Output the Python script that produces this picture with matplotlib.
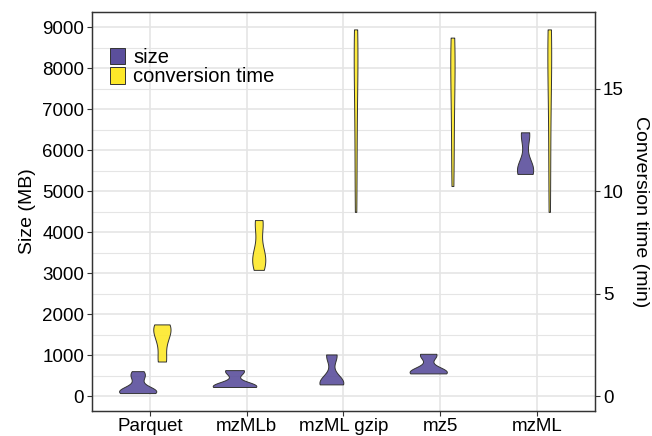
import numpy as np
import matplotlib
matplotlib.use('Agg')
import matplotlib.pyplot as plt
from matplotlib.patches import Patch
from matplotlib.ticker import MultipleLocator

plt.rcParams['font.family'] = ['Liberation Sans', 'DejaVu Sans']

# 数据：每种格式的若干样本
formats = ['Parquet', 'mzMLb', 'mzML gzip', 'mz5', 'mzML']
size_mb = [
    [80, 90, 100, 110, 125, 150, 200, 450, 530, 615],
    [228, 232, 240, 245, 250, 265, 290, 600, 620, 640],
    [292, 298, 305, 315, 330, 360, 420, 980, 1005, 1022],
    [560, 565, 572, 580, 595, 620, 665, 990, 1015, 1038],
    [5425, 5450, 5490, 5530, 5580, 5650, 6330, 6400, 6440],
]
time_min = [
    [1.70, 1.75, 2.5, 2.9, 3.2, 3.35, 3.45, 3.51],
    [6.17, 6.35, 6.55, 6.75, 6.9, 7.2, 8.3, 8.5, 8.6],
    [9.0, 11.0, 13.0, 14.8, 16.0, 17.0, 17.5, 17.9],
    [10.26, 12.0, 13.8, 15.2, 16.3, 17.0, 17.5],
    [9.0, 11.2, 13.2, 15.0, 16.2, 17.1, 17.6, 17.9],
]
time_scale = 500  # 时间乘以500画在左轴上

purple = '#5b4f9c'
yellow = '#fde829'


def bw_nrd0(x):
    x = np.asarray(x, float)
    hi = np.std(x, ddof=1)
    q75, q25 = np.percentile(x, [75, 25])
    lo = min(hi, (q75 - q25) / 1.34)
    return 0.9 * lo * len(x) ** -0.2


def kde(x):
    x = np.asarray(x, float)
    bw = bw_nrd0(x)
    y = np.linspace(x.min(), x.max(), 512)
    d = np.exp(-0.5 * ((y[:, None] - x[None, :]) / bw) ** 2).sum(1)
    d /= len(x) * bw * np.sqrt(2 * np.pi)
    return y, d


# 计算所有小提琴的密度（scale = "area"）
violins = []
for i in range(len(formats)):
    violins.append((i + 1 - 0.125, kde(size_mb[i]), purple))
    violins.append((i + 1 + 0.125, kde(np.array(time_min[i]) * time_scale), yellow))
gmax = max(v[1][1].max() for v in violins)

fig = plt.figure(figsize=(6.52, 4.36), dpi=100)
ax = fig.add_axes([0.1406, 0.058, 0.913 - 0.1406, 0.973 - 0.058])

for xc, (y, d), col in violins:
    half = 0.225 * d / gmax
    ax.fill_betweenx(y, xc - half, xc + half, facecolor=matplotlib.colors.to_rgba(col, 0.9),
                     edgecolor='#333333', linewidth=0.7, zorder=3)

ax.set_xlim(0.4, 5.6)
ax.set_ylim(-350, 9380)
ax.set_xticks(range(1, 6))
ax.set_xticklabels(formats)
ax.set_yticks(np.arange(0, 9001, 1000))
ax.yaxis.set_minor_locator(MultipleLocator(500))

# 网格
ax.grid(True, which='major', color='#e5e5e5', linewidth=1.2, zorder=0)
ax.grid(True, which='minor', axis='y', color='#e5e5e5', linewidth=0.8, zorder=0)
ax.set_axisbelow(True)

ax.tick_params(axis='both', which='major', labelsize=13.5, length=3.5, width=0.8,
               color='#333333', labelcolor='black', pad=2)
ax.tick_params(axis='y', which='minor', length=0)
for s in ax.spines.values():
    s.set_color('#333333')
    s.set_linewidth(0.9)
ax.set_ylabel('Size (MB)', fontsize=14, labelpad=4)

ax2 = ax.twinx()
ax2.set_ylim(-350 / time_scale, 9380 / time_scale)
ax2.set_yticks([0, 5, 10, 15])
ax2.tick_params(axis='y', labelsize=13.5, length=3.5, width=0.8, color='#333333',
                labelcolor='black', pad=2)
for s in ax2.spines.values():
    s.set_color('#333333')
    s.set_linewidth(0.9)
ax2.set_ylabel('Conversion time (min)', fontsize=14, rotation=270, labelpad=18)

handles = [Patch(facecolor=purple, edgecolor='#333333', linewidth=0.7),
           Patch(facecolor=yellow, edgecolor='#333333', linewidth=0.7)]
ax.legend(handles, ['size', 'conversion time'], loc='upper left',
          bbox_to_anchor=(0.037, 0.91), frameon=False, fontsize=14.5,
          borderpad=0, borderaxespad=0, labelspacing=0.0,
          handlelength=0.75, handleheight=0.9, handletextpad=0.4)

plt.savefig('out.png', dpi=100)
